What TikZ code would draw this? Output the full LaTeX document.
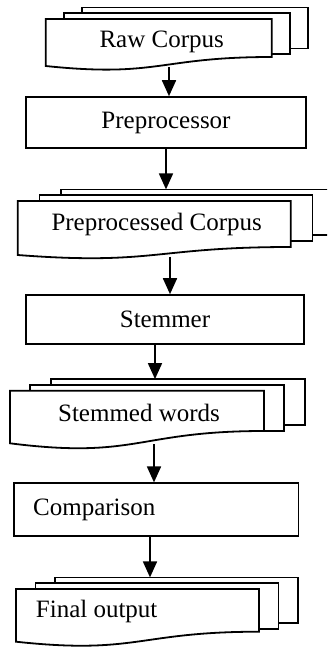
\documentclass[tikz,border=0pt]{standalone}
\usepackage{fontspec}
\setmainfont{Liberation Serif}
\usetikzlibrary{arrows.meta}

\begin{document}
\begin{tikzpicture}[
  x=0.5pt, y=-0.5pt,
  font=\fontsize{12.5}{15}\selectfont,
  line width=0.9pt,
  procbox/.style={
    rectangle, draw=black, fill=white, inner sep=0pt
  },
  page/.style={draw=black, fill=white, line join=miter},
  arrow/.style={-{Triangle[length=8pt,width=7pt]}, black},
]
\useasboundingbox (0,0) rectangle (327,648);
\clip (0,0) rectangle (327,648);

% Stacks of documents: left, top, width, right bottom, left bottom, step, height
\foreach \x/\y/\w/\r/\l/\d/\h in {
    45.7/19/226/57/66/18/41,
    17.7/201/273/247/255/21.7/45.7,
    10/390.7/254/431/443.3/20.3/46,
    16/589/243/631.7/641.7/19.5/45.5} {
  \draw[page] ({\x+2*\d},{\y-11.6}) rectangle ++(\w,\h);
  \draw[page] ({\x+\d},{\y-5.8}) rectangle ++(\w,\h);
  \draw[page] (\x,\y) -- ({\x+\w},\y) -- ({\x+\w},\r)
    .. controls ({\x+\w/2},\r) and ({\x+\w/2},{\r+2.31*(\l-\r)}) .. (\x,\l) -- cycle;
}

% Texts of the documents
\node (raw) at (161.7, 41.7) {Raw Corpus};
\node (precorpus) at (156.7, 224.3) {Preprocessed Corpus};
\node (stemmed) at (139, 413.3) {Stemmed words};
\node[anchor=west, inner sep=0pt] (final) at (35, 611.7) {Final output};

% Process boxes
\node[procbox, minimum width=140pt, minimum height=25.6pt] (preproc)
  at (166, 122.7) {Preprocessor};
\node[procbox, minimum width=139pt, minimum height=24.6pt] (stemmer)
  at (165, 319.7) {Stemmer};
\node[procbox, minimum width=142.2pt, minimum height=26.2pt,
  text width=123pt, align=left] (compare) at (156.2, 509.5) {Comparison};

% Ends of the arrows on the documents
\coordinate (raw-out) at (169, 67);
\coordinate (precorpus-in) at (166, 189.4);
\coordinate (precorpus-out) at (170, 256.5);
\coordinate (stemmed-in) at (155, 379.1);
\coordinate (stemmed-out) at (154, 444);
\coordinate (final-in) at (150, 577.4);

% Flow
\draw[arrow] (raw-out) -- (raw-out |- preproc.north);
\draw[arrow] (preproc.south -| precorpus-in) -- (precorpus-in);
\draw[arrow] (precorpus-out) -- (precorpus-out |- stemmer.north);
\draw[arrow] (stemmer.south -| stemmed-in) -- (stemmed-in);
\draw[arrow] (stemmed-out) -- (stemmed-out |- compare.north);
\draw[arrow] (compare.south -| final-in) -- (final-in);

\end{tikzpicture}
\end{document}
